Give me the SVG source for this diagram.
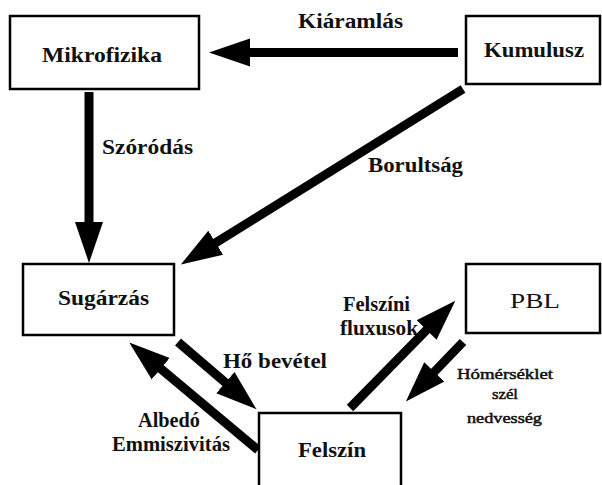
<svg xmlns="http://www.w3.org/2000/svg" width="602" height="485" viewBox="0 0 602 485">
<style>
.box{fill:#fff;stroke:#000;stroke-width:2.5}
text{font-family:'Liberation Serif','Times New Roman',serif;fill:#111}
.lbl{font-weight:bold;font-size:20px}
.reg{font-weight:normal}
.edge{stroke:#000;stroke-width:9;fill:none;marker-end:url(#ah)}
</style>
<defs>
<marker id="ah" markerUnits="userSpaceOnUse" markerWidth="42" markerHeight="30" viewBox="0 0 42 30" refX="12" refY="15" orient="auto">
<path d="M0,1 L41,15 L0,29 Z" fill="#000"/>
</marker>
</defs>
<rect width="602" height="485" fill="#fff"/>
<g id="connectors">
<line class="edge" x1="458" y1="52.5" x2="238" y2="52.5"/>
<line class="edge" x1="89" y1="92" x2="89" y2="234"/>
<line class="edge" x1="463" y1="89" x2="205.5" y2="249.1"/>
<line class="edge" x1="178" y1="342" x2="234.5" y2="390.4"/>
<line class="edge" x1="258" y1="450" x2="151.5" y2="361"/>
<line class="edge" x1="350" y1="408" x2="435" y2="321.4"/>
<line class="edge" x1="463" y1="342" x2="426" y2="380.5"/>
</g>
<g id="mikrofizika">
<rect class="box" x="10" y="16" width="189" height="73"/>
<text class="lbl" x="42" y="62" textLength="120" lengthAdjust="spacingAndGlyphs">Mikrofizika</text>
</g>
<g id="kumulusz">
<rect class="box" x="466" y="16" width="134" height="68"/>
<text class="lbl" x="484" y="57" textLength="100" lengthAdjust="spacingAndGlyphs">Kumulusz</text>
</g>
<g id="sugarzas">
<rect class="box" x="23" y="264" width="151" height="71"/>
<text class="lbl" x="58" y="305" textLength="91" lengthAdjust="spacingAndGlyphs">Sugárzás</text>
</g>
<g id="pbl">
<rect class="box" x="466" y="264" width="134" height="69"/>
<text class="reg" x="510" y="308" font-size="21" textLength="50" lengthAdjust="spacingAndGlyphs">PBL</text>
</g>
<g id="felszin">
<rect class="box" x="259" y="413" width="142" height="80"/>
<text class="lbl" x="298" y="457" textLength="68" lengthAdjust="spacingAndGlyphs">Felszín</text>
</g>
<g id="labels">
<text class="lbl" x="298" y="28" font-size="18" textLength="105" lengthAdjust="spacingAndGlyphs">Kiáramlás</text>
<text class="lbl" x="102" y="154" font-size="18" textLength="91" lengthAdjust="spacingAndGlyphs">Szóródás</text>
<text class="lbl" x="368" y="172" font-size="19" textLength="95" lengthAdjust="spacingAndGlyphs">Borultság</text>
<text class="lbl" x="223" y="368" font-size="19" textLength="104" lengthAdjust="spacingAndGlyphs">Hő bevétel</text>
<text class="lbl" x="138" y="427" font-size="16" textLength="62" lengthAdjust="spacingAndGlyphs">Albedó</text>
<text class="lbl" x="112" y="451" font-size="16" textLength="118" lengthAdjust="spacingAndGlyphs">Emmiszivitás</text>
<text class="lbl" x="343" y="311" font-size="16" textLength="67" lengthAdjust="spacingAndGlyphs">Felszíni</text>
<text class="lbl" x="340" y="335" font-size="16" textLength="78" lengthAdjust="spacingAndGlyphs">fluxusok</text>
<text class="reg" x="457" y="379" font-size="15" stroke="#111" stroke-width="0.5" textLength="96" lengthAdjust="spacingAndGlyphs">Hómérséklet</text>
<text class="reg" x="492" y="399" font-size="15" stroke="#111" stroke-width="0.5" textLength="26" lengthAdjust="spacingAndGlyphs">szél</text>
<text class="reg" x="467" y="423" font-size="15" stroke="#111" stroke-width="0.5" textLength="75" lengthAdjust="spacingAndGlyphs">nedvesség</text>
</g>
</svg>
